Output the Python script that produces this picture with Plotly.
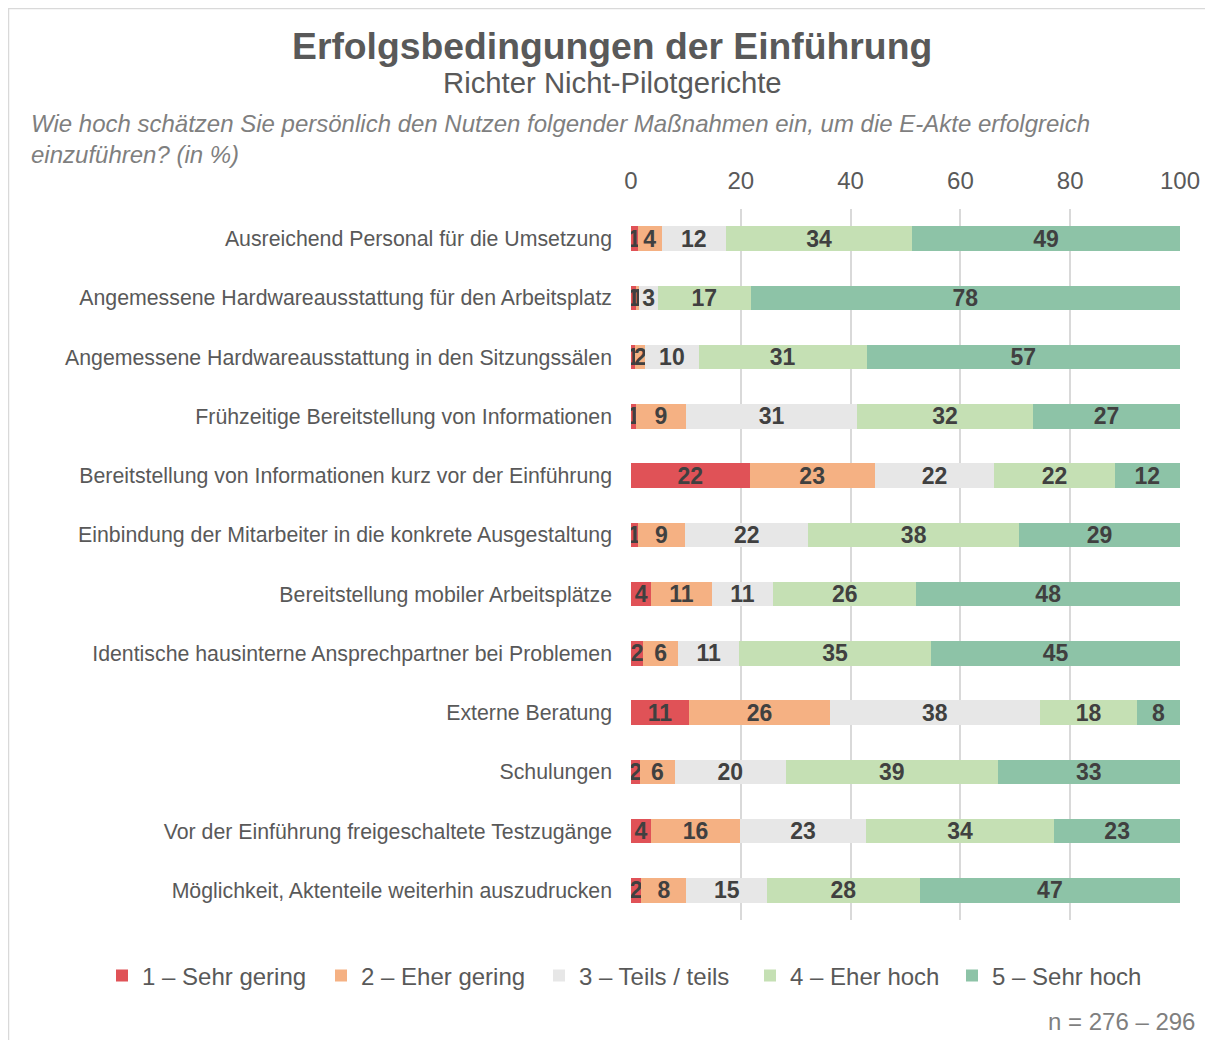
import plotly.graph_objects as go

categories = [
    "Ausreichend Personal für die Umsetzung",
    "Angemessene Hardwareausstattung für den Arbeitsplatz",
    "Angemessene Hardwareausstattung in den Sitzungssälen",
    "Frühzeitige Bereitstellung von Informationen",
    "Bereitstellung von Informationen kurz vor der Einführung",
    "Einbindung der Mitarbeiter in die konkrete Ausgestaltung",
    "Bereitstellung mobiler Arbeitsplätze",
    "Identische hausinterne Ansprechpartner bei Problemen",
    "Externe Beratung",
    "Schulungen",
    "Vor der Einführung freigeschaltete Testzugänge",
    "Möglichkeit, Aktenteile weiterhin auszudrucken",
]

sehr_gering = [1.2, 0.9, 0.8, 0.9, 21.6, 1.2, 3.7, 2.2, 10.6, 1.6, 3.6, 1.9]
eher_gering = [4.4, 0.6, 1.8, 9.1, 22.8, 8.7, 11.0, 6.4, 25.6, 6.4, 16.3, 8.2]
teils_teils = [11.7, 3.4, 9.7, 31.2, 21.8, 22.4, 11.2, 11.1, 38.3, 20.2, 22.9, 14.7]
eher_hoch = [33.9, 16.9, 30.6, 32.0, 21.9, 38.4, 26.1, 35.0, 17.7, 38.6, 34.3, 27.8]
sehr_hoch = [48.8, 78.2, 57.1, 26.8, 11.9, 29.3, 48.0, 45.3, 7.8, 33.2, 22.9, 47.4]

series_names = ["1 – Sehr gering", "2 – Eher gering", "3 – Teils / teils",
                "4 – Eher hoch", "5 – Sehr hoch"]
series_values = [sehr_gering, eher_gering, teils_teils, eher_hoch, sehr_hoch]
colors = ["#E05257", "#F5B183", "#E7E7E7", "#C5E0B4", "#8DC3A7"]
legend_widths = [174, 173, 166, 157, 150]

tick_vals = [0, 20, 40, 60, 80, 100]

FONT = "Liberation Sans, Arial, sans-serif"

fig = go.Figure()
for name, vals, col, lw in zip(series_names, series_values, colors, legend_widths):
    fig.add_trace(go.Bar(
        y=categories, x=vals, name=name, orientation="h",
        marker=dict(color=col, line=dict(width=0)),
        width=0.41,
        texttemplate="<b>%{x:.0f}</b>",
        textposition="inside",
        insidetextanchor="middle",
        textangle=0,
        constraintext="none",
        textfont=dict(family=FONT, size=23, color="#404040"),
        legendwidth=lw,
        hoverinfo="skip",
    ))

# plot area on screen: x 631..1180, y 209..920 (page has 8px body offset)
fig.update_layout(
    barmode="stack",
    width=1213, height=1040,
    margin=dict(l=623, r=41, t=201, b=128, autoexpand=False),
    paper_bgcolor="white", plot_bgcolor="white",
    font=dict(family=FONT, color="#595959"),
    uniformtext=dict(minsize=23, mode="show"),
    showlegend=True,
    legend=dict(
        orientation="h", xref="paper", yref="paper",
        x=(102 - 631) / 549.0, xanchor="left",
        y=1 - (976 - 209) / 711.0, yanchor="middle",
        font=dict(family=FONT, size=24, color="#595959"),
        itemwidth=30, traceorder="normal",
    ),
)

fig.update_xaxes(
    range=[0, 100], side="top", tickvals=tick_vals,
    showgrid=True, gridcolor="#D9D9D9", gridwidth=2,
    zeroline=False, showline=False, ticks="",
    tickfont=dict(family=FONT, size=24, color="#595959"),
    ticklabelstandoff=14, fixedrange=True,
)
fig.update_yaxes(
    categoryorder="array", categoryarray=categories[::-1],
    range=[-0.5, len(categories) - 0.5],
    showgrid=False, zeroline=False, showline=False, ticks="",
    tickfont=dict(family=FONT, size=21.3, color="#595959"),
    ticklabelstandoff=18, fixedrange=True,
)

def px_x(px):
    return (px - 631) / 549.0

def px_y(py):
    return 1 - (py - 209) / 711.0

fig.add_annotation(text="<b>Erfolgsbedingungen der Einführung</b>",
                   xref="paper", yref="paper", x=px_x(612), y=px_y(46),
                   xanchor="center", yanchor="middle", showarrow=False,
                   font=dict(family=FONT, size=37.3, color="#595959"))
fig.add_annotation(text="Richter Nicht-Pilotgerichte",
                   xref="paper", yref="paper", x=px_x(612), y=px_y(83),
                   xanchor="center", yanchor="middle", showarrow=False,
                   font=dict(family=FONT, size=29.3, color="#595959"))
fig.add_annotation(text="<i>Wie hoch schätzen Sie persönlich den Nutzen folgender Maßnahmen ein, um die E-Akte erfolgreich<br>einzuführen? (in %)</i>",
                   xref="paper", yref="paper", x=px_x(29), y=px_y(108),
                   xanchor="left", yanchor="top", showarrow=False, align="left",
                   font=dict(family=FONT, size=24, color="#7F7F7F"))
fig.add_annotation(text="n = 276 – 296",
                   xref="paper", yref="paper", x=px_x(1197), y=px_y(1021),
                   xanchor="right", yanchor="middle", showarrow=False,
                   font=dict(family=FONT, size=24, color="#7F7F7F"))

fig.add_shape(type="rect", xref="paper", yref="paper",
              x0=px_x(8.5), x1=px_x(1240), y0=px_y(1060), y1=px_y(8.5),
              line=dict(color="#D9D9D9", width=1.5), fillcolor="rgba(0,0,0,0)",
              layer="below")

fig.write_html("out.html")
